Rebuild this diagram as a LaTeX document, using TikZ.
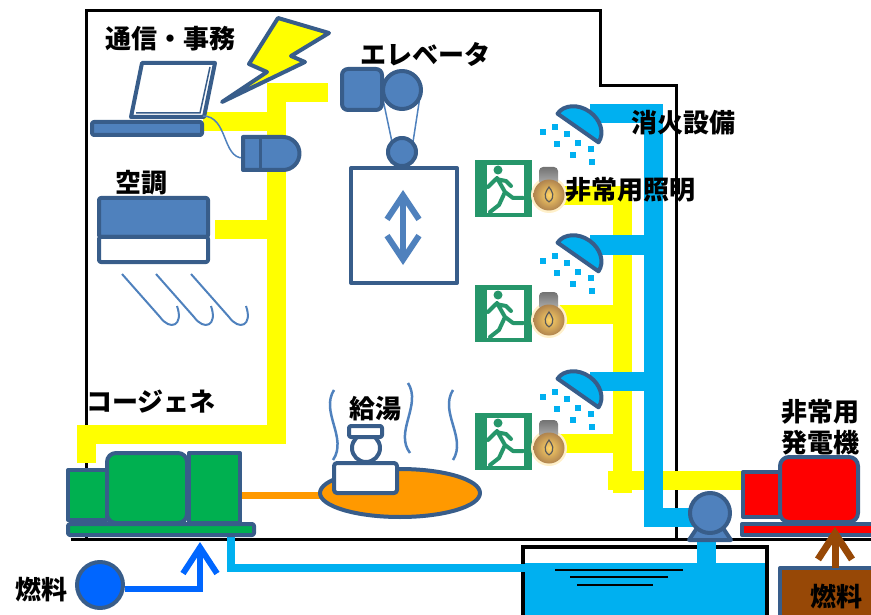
\documentclass[tikz,border=0pt]{standalone}
\usepackage{fontspec}
\usepackage{tikz}
\usetikzlibrary{arrows.meta}
\newfontfamily\jp{Noto Sans CJK JP}

\definecolor{dkblue}{HTML}{385D8A}
\definecolor{mdblue}{HTML}{4F81BD}
\definecolor{cyanw}{HTML}{00B0F0}
\definecolor{yel}{HTML}{FFFF00}
\definecolor{cgreen}{HTML}{00B050}
\definecolor{hotor}{HTML}{FF9900}
\definecolor{exitg}{HTML}{26966A}
\definecolor{fblue}{HTML}{0066FF}
\definecolor{fbrown}{HTML}{974806}
\definecolor{lampin}{HTML}{FFD468}
\definecolor{lampout}{HTML}{B0844E}

\tikzset{
  jtext/.style={font=\jp\bfseries\fontsize{26}{31}\selectfont, inner sep=0pt},
  wall/.style={line width=3},
  part/.style={draw=dkblue, line width=4, line join=round, fill=mdblue},
  wire/.style={draw=yel, line width=19},
  firepipe/.style={draw=cyanw, line width=19},
  barb/.style={-{Straight Barb[length=26pt,width=34pt]}},
}

\begin{document}
\begin{tikzpicture}[x=1pt,y=-1pt]
\useasboundingbox (0,0) rectangle (871,615);
\clip (0,0) rectangle (871,615);

% points where the lines meet the machines
\coordinate (pump) at (710,513);
\coordinate (cgIn) at (200,542);
\coordinate (genIn) at (835,527);

% building
\draw[wall] (86,540) -- (86,11) -- (600,11) -- (600,86) -- (676,86) -- (676,539);
\draw[wall] (71,539) -- (871,539);

% water tank
\fill[cyanw] (523,563) rectangle (767,615);
\draw[line width=4] (523,615) -- (523,547) -- (767,547) -- (767,615);
\draw[line width=1.5] (555,570) -- (683,570) (570,577) -- (668,577) (577,585) -- (653,585);

% electricity
\draw[wire] (86,463) -- (86,434) -- (276,434) -- (276,93) -- (328,93);
\draw[wire] (203,122) -- (276,122);
\draw[wire] (215,230) -- (276,230);
\draw[wire] (560,196) -- (622,196) -- (622,493);
\draw[wire] (560,314) -- (622,314);
\draw[wire] (560,443) -- (622,443);
\draw[wire] (608,480) -- (742,480);

% fire water and tank pipes
\draw[firepipe] (590,114) -- (653,114) -- (653,517) -- (pump |- 0,517);
\draw[firepipe] (590,245) -- (653,245);
\draw[firepipe] (590,381) -- (653,381);
\draw[firepipe] (706,530) -- (706,564);
\draw[cyanw, line width=8] (231,530) -- (231,568) -- (526,568);
\draw[hotor, line width=7] (238,495) -- (330,495);

% laptop and lightning
\draw[part, fill=white] (142,63) -- (215,63) -- (204,117) -- (131,117) -- cycle;
\draw[dkblue, line width=1.5] (210,67) -- (200,113) -- (136,113);
\draw[part, rounded corners=2] (92,122) rectangle (202,135);
\draw[part, fill=yel] (278,18) -- (329,33) -- (291,56) -- (305,62) -- (222,102) -- (267,72) -- (249,64) -- cycle;
\draw[mdblue, line width=1.5] (203,116) .. controls (228,116) and (222,158) .. (243,158);
\draw[part] (283,137) arc[start angle=-90, end angle=90, radius=16.5] -- (243,170) -- (243,137) -- cycle;
\draw[dkblue, line width=3] (260,139) -- (260,168);

% air conditioner
\draw[part, rounded corners=2] (99,198) rectangle (208,237);
\draw[part, fill=white, rounded corners=2] (99,237) rectangle (208,262);
\foreach \sx in {122,156,191}
  \draw[mdblue, line width=2] (\sx,274) -- (\sx+38,317) .. controls (\sx+48,331) and (\sx+62,326) .. (\sx+55,306);

% elevator
\draw[mdblue, line width=1.5] (381,90) -- (392,142) (421,90) -- (413,142);
\draw[part, rounded corners=6] (342,69) rectangle (382,110);
\draw[part] (402,90) circle[radius=19];
\draw[part] (402,152) circle[radius=14];
\draw[part, fill=white] (351,168) rectangle (457,283);
\draw[mdblue, line width=6, line cap=round, {Straight Barb[length=24pt,width=32pt]}-{Straight Barb[length=24pt,width=32pt]}] (403,190) -- (403,265);

% hot water
\draw[mdblue, line width=2.5] (334,390) .. controls (320,412) and (348,438) .. (333,460);
\draw[mdblue, line width=2.5] (408,383) .. controls (422,405) and (394,432) .. (410,453);
\draw[mdblue, line width=2.5] (453,390) .. controls (439,412) and (467,438) .. (453,460);
\draw[part, fill=hotor] (400,493) ellipse[x radius=80, y radius=24];
\draw[part, fill=white, rounded corners=3] (334,463) rectangle (397,493);
\draw[part, fill=white] (366,448) circle[radius=14];
\draw[part, fill=white, rounded corners=2] (349,426) rectangle (382,437);

% cogeneration
\draw[part, fill=cgreen] (68,470) rectangle (107,520);
\draw[part, fill=cgreen, rounded corners=9] (107,453) rectangle (187,523);
\draw[part, fill=cgreen] (189,453) rectangle (240,523);
\draw[part, fill=cgreen, rounded corners=2] (68,524) rectangle (254,535);

% fuel for the cogeneration
\node[circle, part, fill=fblue, minimum size=46, inner sep=0] (fuelA) at (100,585) {};
\draw[fblue, line width=6, barb] ([yshift=-4pt]fuelA.east) -| (cgIn);

% sprinklers, exit signs and lamps
\foreach \y in {128,257,393} {
  \draw[part, fill=cyanw, shift={(578,\y)}, rotate=-35]
    (-25,0) arc[start angle=180, end angle=360, x radius=25, y radius=20] -- cycle;
  \foreach \dx/\dy in {-35/4,-23/-1,-11/6,-21/16,0/15,13/21,-5/27,14/34}
    \fill[cyanw] (575+\dx,\y+\dy-3) rectangle +(6,6);
}
\foreach \y in {160,285,413} {
  \fill[exitg] (475,\y) rectangle +(57,57);
  \fill[white] (487,\y+5) rectangle +(37,48);
  \fill[exitg] (498,\y+10) circle[radius=4.5];
  \draw[exitg, line width=4, line cap=round, line join=round]
    (488,\y+27) -- (496,\y+19) -- (506,\y+21) -- (511,\y+26)
    (497,\y+18) -- (505,\y+32) -- (513,\y+38) -- (523,\y+38)
    (505,\y+32) -- (499,\y+45) -- (490,\y+52);
}
\foreach \y in {195,320,448} {
  \fill[lampin!35] (549,\y) circle[radius=18];
  \shade[top color=gray!90!black, bottom color=gray!60, rounded corners=4] (539,\y-28) rectangle (558,\y-10);
  \shade[inner color=lampin, outer color=lampout] (549,\y) circle[radius=15.5];
  \draw[gray!70!black, line width=1.2] (549,\y+7) .. controls (542,\y+2) and (546,\y-4) .. (549,\y-8)
    .. controls (552,\y-4) and (556,\y+2) .. (549,\y+7);
}

% pump
\draw[part] (689,540) -- (697,528) -- (723,528) -- (731,540) -- cycle;
\draw[part] (pump) circle[radius=20];

% emergency generator and its fuel
\draw[part, fill=red] (743,472) rectangle (783,517);
\draw[part, fill=red, rounded corners=9] (780,457) rectangle (858,522);
\draw[part, fill=red] (742,524) rectangle (885,535);
\draw[part, fill=fbrown] (780,568) rectangle (885,630);
\draw[fbrown, line width=7, barb] (genIn |- 0,568) -- (genIn);

% texts
\node[jtext] (comm) at (170,39) {通信・事務};
\node[jtext] (elev) at (425,54) {エレベータ};
\node[jtext] (fire) at (683,123) {消火設備};
\node[jtext] (emlight) at (630,190) {非常用照明};
\node[jtext] (hvac) at (141,183) {空調};
\node[jtext] (cogen) at (151,402) {コージェネ};
\node[jtext] (hotw) at (375,409) {給湯};
\node[jtext, align=center] (emgen) at (820,427) {非常用\\発電機};
\node[jtext] (fuelL) at (42,590) {燃料};
\node[jtext] (fuelR) at (836,597) {燃料};
\end{tikzpicture}
\end{document}
